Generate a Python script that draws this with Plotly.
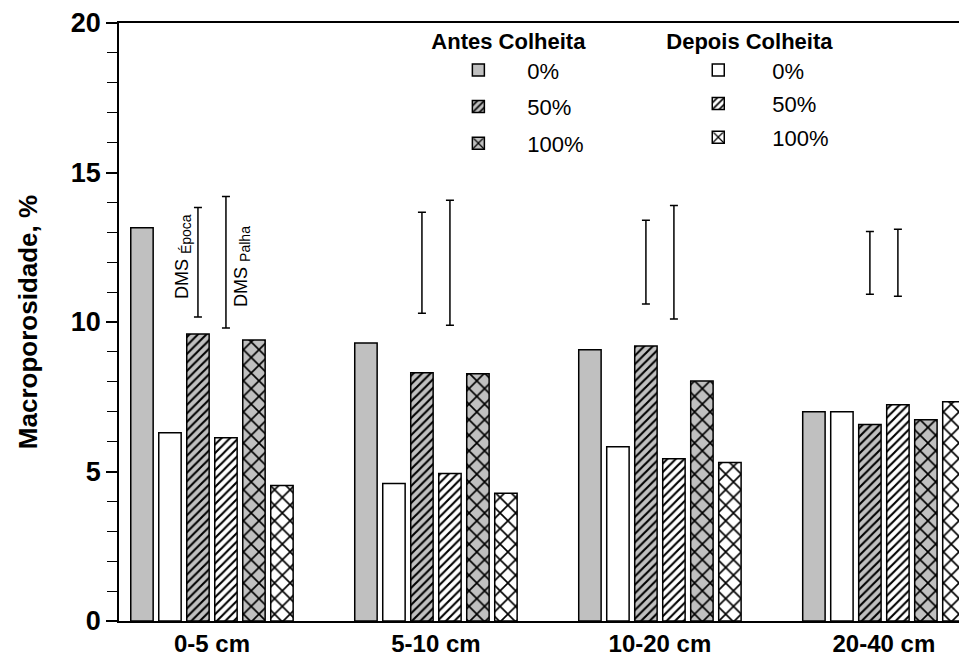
import plotly.graph_objects as go

categories = ["0-5 cm", "5-10 cm", "10-20 cm", "20-40 cm"]
antes_0 = [13.15, 9.30, 9.07, 7.00]
depois_0 = [6.30, 4.60, 5.83, 7.00]
antes_50 = [9.60, 8.30, 9.20, 6.57]
depois_50 = [6.13, 4.93, 5.43, 7.23]
antes_100 = [9.40, 8.27, 8.03, 6.73]
depois_100 = [4.53, 4.27, 5.30, 7.33]

# DMS (least significant difference) bars: centre and half length
dms_epoca_center = [12.00, 11.98, 12.00, 11.98]
dms_epoca_half = [1.83, 1.69, 1.40, 1.05]
dms_palha_center = [12.00, 11.98, 12.00, 11.98]
dms_palha_half = [2.20, 2.09, 1.90, 1.12]

yticks = [0, 5, 10, 15, 20]

FONT = "Liberation Sans, Arial, sans-serif"
GRAY = "#c0c0c0"
xs = list(range(len(categories)))

fig = go.Figure()

series = [
    ("0%", antes_0, GRAY, "", "legend", "a0"),
    ("0%", depois_0, "white", "", "legend2", "d0"),
    ("50%", antes_50, GRAY, "/", "legend", "a50"),
    ("50%", depois_50, "white", "/", "legend2", "d50"),
    ("100%", antes_100, GRAY, "x", "legend", "a100"),
    ("100%", depois_100, "white", "x", "legend2", "d100"),
]
for name, vals, col, shape, leg, grp in series:
    pattern = dict(shape=shape, fgcolor="black", fgopacity=1, bgcolor=col, fillmode="overlay",
                   size=11 if shape == "x" else 6, solidity=0.28 if shape == "x" else 0.35)
    fig.add_trace(go.Bar(
        x=xs, y=vals, name=name, legend=leg, legendgroup=grp,
        marker=dict(color=col, line=dict(color="black", width=1.5), pattern=pattern),
    ))

off = 0.0625
fig.add_trace(go.Scatter(
    x=[i - off for i in xs], y=dms_epoca_center, mode="markers",
    marker=dict(size=1, color="rgba(0,0,0,0)"), showlegend=False, hoverinfo="skip",
    error_y=dict(type="data", array=dms_epoca_half, visible=True, color="black",
                 thickness=1.5, width=4),
))
fig.add_trace(go.Scatter(
    x=[i + off for i in xs], y=dms_palha_center, mode="markers",
    marker=dict(size=1, color="rgba(0,0,0,0)"), showlegend=False, hoverinfo="skip",
    error_y=dict(type="data", array=dms_palha_half, visible=True, color="black",
                 thickness=1.5, width=4),
))

sub = '<sub><span style="font-size:14px">{}</span></sub>'
fig.add_annotation(x=-0.13, y=12.2, xref="x", yref="y", text="DMS " + sub.format("Época"),
                   textangle=-90, showarrow=False, font=dict(family=FONT, size=18, color="black"))
fig.add_annotation(x=0.135, y=11.85, xref="x", yref="y", text="DMS " + sub.format("Palha"),
                   textangle=-90, showarrow=False, font=dict(family=FONT, size=18, color="black"))

# page body has an 8px margin, so the figure is offset by 8px from the window edge
fig.update_layout(
    width=959, height=655,
    margin=dict(l=111, r=0, t=13, b=42),
    paper_bgcolor="white", plot_bgcolor="white",
    font=dict(family=FONT, color="black"),
    barmode="group", bargap=0.25, bargroupgap=0.2,
    legend=dict(title=dict(text="Antes Colheita", font=dict(size=22, weight="bold"), side="top"),
                x=0.366, y=1.004, xanchor="left", yanchor="top", itemwidth=88,
                bgcolor="rgba(0,0,0,0)", font=dict(size=22), tracegroupgap=5),
    legend2=dict(title=dict(text="Depois Colheita", font=dict(size=22, weight="bold"), side="top"),
                 x=0.643, y=1.004, xanchor="left", yanchor="top", itemwidth=98,
                 bgcolor="rgba(0,0,0,0)", font=dict(size=22), tracegroupgap=2),
    xaxis=dict(range=[-0.415, 3.371], tickvals=xs, ticktext=categories,
               tickfont=dict(size=24, weight="bold"), showline=True, linecolor="black",
               linewidth=2, mirror=True, ticks="", showgrid=False, zeroline=False),
    yaxis=dict(range=[0, 20], tickvals=yticks, ticks="outside", ticklen=11, tickwidth=1.5,
               tickcolor="black", tickfont=dict(size=27, weight="bold"), ticklabeloverflow="allow",
               minor=dict(dtick=1, ticks="outside", ticklen=10, tickwidth=1.2, tickcolor="black"),
               showline=True, linecolor="black", linewidth=1.5, showgrid=False, zeroline=False,
               title=dict(text="Macroporosidade, %", font=dict(size=26, weight="bold"), standoff=26)),
)

fig.write_html("out.html")
